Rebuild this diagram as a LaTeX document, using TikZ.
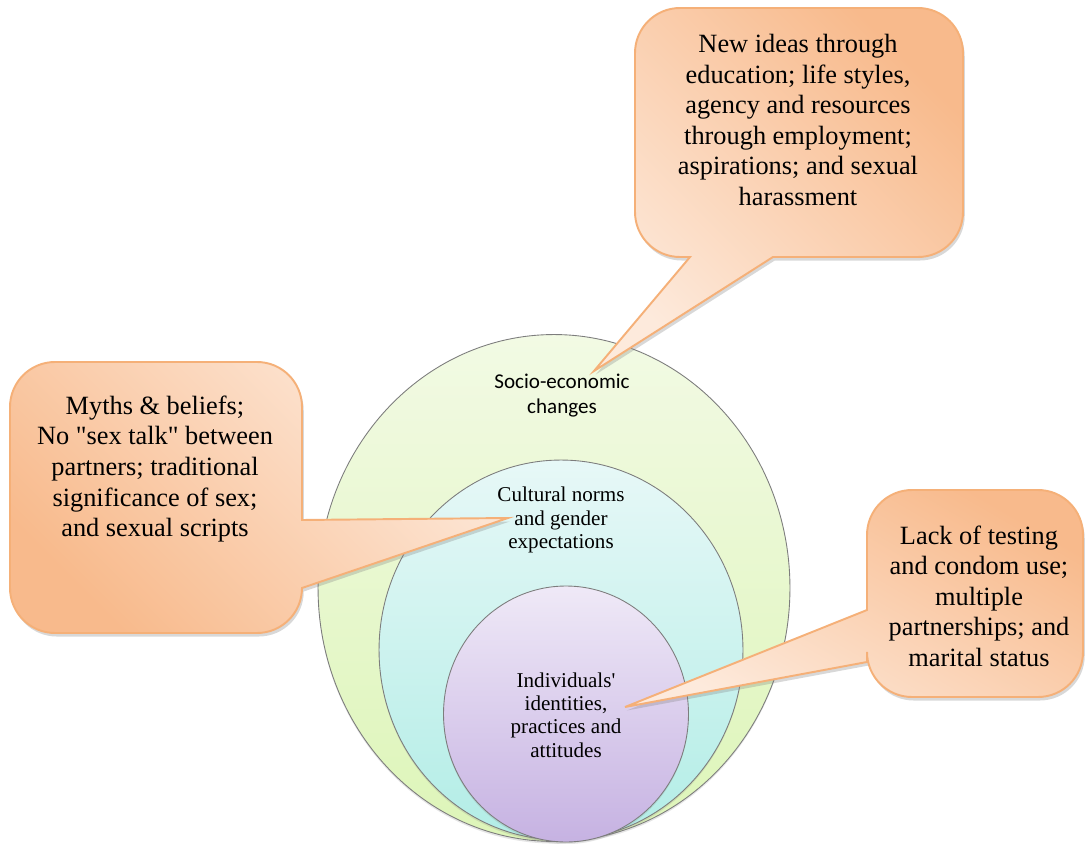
\documentclass[tikz,border=0pt]{standalone}
\usepackage{fontspec}
\setmainfont{Liberation Serif}
\newfontfamily\calibrifont{Carlito}
\usetikzlibrary{shapes.geometric,shadows}

\definecolor{bubbledark}{RGB}{248,186,140}
\definecolor{bubblelight}{RGB}{253,234,220}
\definecolor{bubbleline}{RGB}{245,176,120}
\definecolor{greentop}{RGB}{242,250,228}
\definecolor{greenbot}{RGB}{221,245,184}
\definecolor{cyantop}{RGB}{231,248,247}
\definecolor{cyanbot}{RGB}{178,237,230}
\definecolor{purptop}{RGB}{239,233,247}
\definecolor{purpbot}{RGB}{198,178,226}
\definecolor{ringline}{RGB}{125,125,125}

\begin{document}
\begin{tikzpicture}[x=0.02cm, y=-0.02cm,
    ring/.style={ellipse, draw=ringline, line width=0.5pt, inner sep=0pt,
        drop shadow={opacity=0.2, shadow xshift=0pt, shadow yshift=-1.2pt}},
    bubble/.style={draw=bubbleline, line width=1.1pt, top color=bubbledark, bottom color=bubblelight,
        drop shadow={opacity=0.3, shadow xshift=1pt, shadow yshift=-2pt}},
    bubbletext/.style={align=center, inner sep=0pt, font=\fontsize{15}{17.4}\selectfont},
    ringtext/.style={align=center, inner sep=0pt, font=\fontsize{12}{13.2}\selectfont},
    sanstext/.style={align=center, inner sep=0pt, font=\calibrifont\fontsize{12}{14.2}\selectfont}]
    % 画布范围
    \useasboundingbox (0,0) rectangle (1085,844);
    \fill[white] (0,0) rectangle (1085,844);

    % 三个同心(内切)圆
    \node[ring, top color=greentop, bottom color=greenbot, minimum width=9.44cm, minimum height=10.14cm] (outer) at (554,588) {};
    \node[ring, top color=cyantop, bottom color=cyanbot, minimum width=7.28cm, minimum height=7.6cm] (middle) at (561,650) {};
    \node[ring, top color=purptop, bottom color=purpbot, minimum width=4.9cm, minimum height=5.12cm] (inner) at (566,714) {};

    % 气泡尖端
    \coordinate (tiptr) at (594,371);
    \coordinate (tiplf) at (508,518);
    \coordinate (tiprt) at (625,707);

    % 右上气泡
    \draw[bubble, shading angle=-45] (773,257) -- (918,257) arc[start angle=90, end angle=0, radius=45]
        -- (963,53) arc[start angle=0, end angle=-90, radius=45]
        -- (680,8) arc[start angle=-90, end angle=-180, radius=45]
        -- (635,212) arc[start angle=180, end angle=90, radius=45]
        -- (690,257) -- (tiptr) -- cycle;

    % 左侧气泡
    \draw[bubble, shading angle=135] (302,520) -- (302,407) arc[start angle=0, end angle=-90, radius=45]
        -- (55,362) arc[start angle=-90, end angle=-180, radius=45]
        -- (10,588) arc[start angle=180, end angle=90, radius=45]
        -- (257,633) arc[start angle=90, end angle=0, radius=45]
        -- (tiplf) -- cycle;

    % 右侧气泡
    \draw[bubble, shading angle=-30] (867,610) -- (867,535) arc[start angle=180, end angle=270, radius=45]
        -- (1038,490) arc[start angle=270, end angle=360, radius=45]
        -- (1083,652) arc[start angle=0, end angle=90, radius=45]
        -- (912,697) arc[start angle=90, end angle=180, radius=45]
        -- (867,662) -- (tiprt) -- cycle;

    % 气泡文字
    \node[bubbletext] (trtext) at (798,120) {New ideas through\\education; life styles,\\agency and resources\\through employment;\\aspirations; and sexual\\harassment};
    \node[bubbletext] (lftext) at (155,469) {Myths \& beliefs;\\No \textquotedbl sex talk\textquotedbl{} between\\partners; traditional\\significance of sex;\\and sexual scripts};
    \node[bubbletext] (rttext) at (979,596) {Lack of testing\\and condom use;\\multiple\\partnerships; and\\marital status};

    % 圆内文字
    \node[sanstext] (outerlbl) at (562,396) {Socio-economic\\changes};
    \node[ringtext] (middlelbl) at (561,520) {Cultural norms\\and gender\\expectations};
    \node[ringtext] (innerlbl) at (566,715) {Individuals\textquotesingle\\identities,\\practices and\\attitudes};
\end{tikzpicture}
\end{document}
